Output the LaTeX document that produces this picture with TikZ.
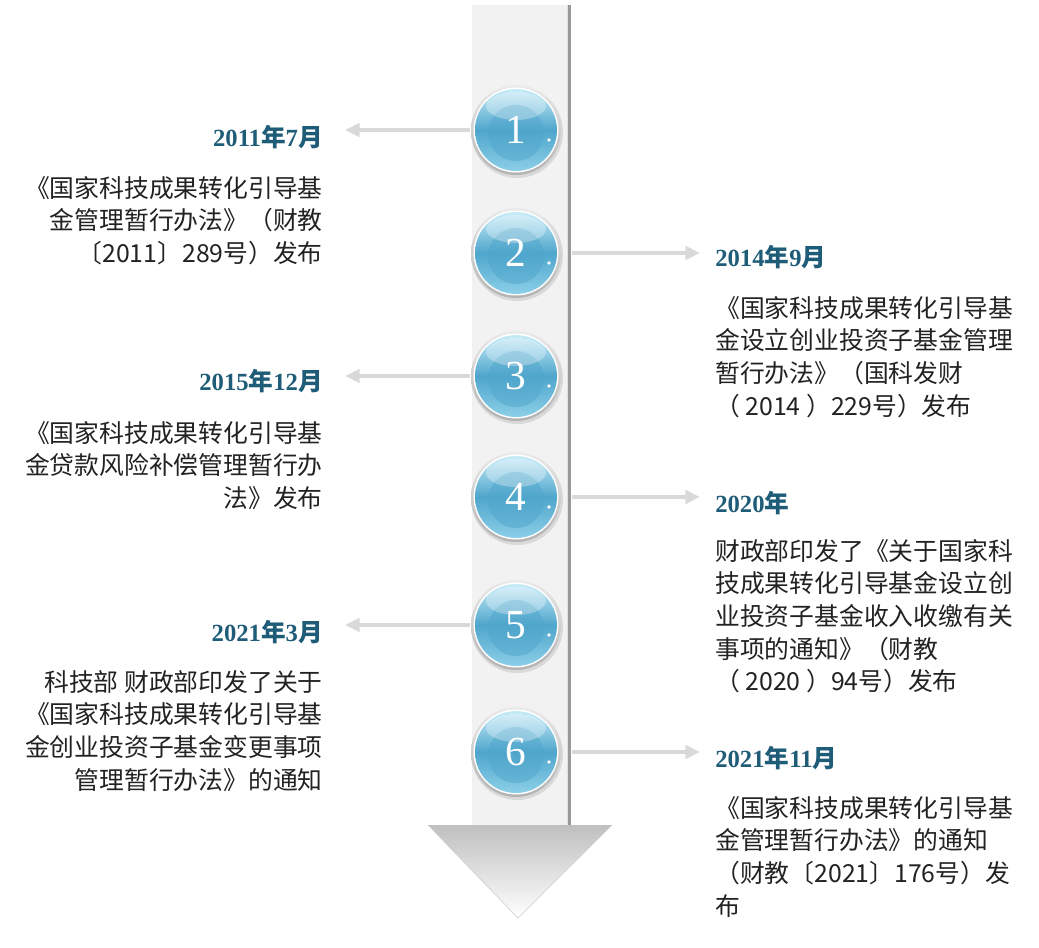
\documentclass[tikz,border=0pt]{standalone}
\usepackage{fontspec}
\setmainfont{Liberation Serif}
\newfontfamily\cjk{Noto Sans CJK SC}
\usetikzlibrary{arrows.meta,shadows}
\definecolor{ttl}{HTML}{1F5C78}
\definecolor{bd}{HTML}{222222}
\definecolor{ln}{HTML}{D9D9D9}
\definecolor{b1}{HTML}{4FA6CC}
\definecolor{b2}{HTML}{8CCFE8}
\definecolor{b3}{HTML}{C8ECF8}
\tikzset{
 ttl/.style={font=\fontsize{18.5}{20}\selectfont\bfseries, text=ttl, inner sep=0},
 bodyL/.style={font=\cjk\fontsize{18.6}{24.5}\selectfont, text=bd, align=right, anchor=north east, inner sep=0},
 bodyR/.style={font=\cjk\fontsize{18.6}{24.5}\selectfont, text=bd, align=left, anchor=north west, inner sep=0},
 conn/.style={draw=ln, line width=3pt, -{Triangle[length=11pt,width=10pt]}},
 num/.style={font=\fontsize{31}{32}\selectfont, text=white}
}
\newcommand\ball[3]{%
 \fill[black!15] (#1+1,#2+2) circle (46);
 \shade[top color=black!8, bottom color=black!30] (#1,#2) circle (45);
 \fill[white] (#1,#2) circle (42.5);
 \shade[top color=b3, bottom color=b2, middle color=b1] (#1,#2) circle (41);
 \shade[inner color=b1, outer color=b1, opacity=0.5] (#1,#2+3) circle (28);
 \fill[white, opacity=0.3] (#1,#2-24) ellipse (30 and 14);
 \fill[white] (#1+33,#2+10) circle (1.8);
 \node[num, circle, minimum size=61.5pt, inner sep=0] (#3) at (#1,#2) {\the\numexpr#3\relax};
}
\begin{document}
\begin{tikzpicture}[x=0.75pt,y=-0.75pt]
\useasboundingbox (0,0) rectangle (1039,948);
% shaft
\fill[black!40] (567,5) rectangle (571,825);
\fill[black!12] (565,5) rectangle (568,825);
\fill[black!5] (472,5) rectangle (567,825);
\shade[top color=black!25, bottom color=white] (428,825) -- (612,825) -- (518,918) -- cycle;
\draw[black!20] (428,825) -- (518,918) -- (612,825);
% balls
\ball{516}{130}{1}
\ball{516}{253}{2}
\ball{516}{376}{3}
\ball{516}{497}{4}
\ball{516}{625}{5}
\ball{516}{752}{6}
\coordinate (l1) at (345,130); \coordinate (r2) at (700,253);
\coordinate (l3) at (345,376); \coordinate (r4) at (700,497);
\coordinate (l5) at (345,625); \coordinate (r6) at (700,752);
\draw[conn] ([xshift=-3.5pt]1.west) -- (l1);
\draw[conn] ([xshift=-3.5pt]3.west) -- (l3);
\draw[conn] ([xshift=-3.5pt]5.west) -- (l5);
\draw[conn] ([xshift=11pt]2.east) -- (r2);
\draw[conn] ([xshift=11pt]4.east) -- (r4);
\draw[conn] ([xshift=11pt]6.east) -- (r6);
% left texts
\node[ttl, anchor=east] (t1) at (323,137) {2011{\cjk 年}7{\cjk 月}};
\node[bodyL] (b1) at (323,176) {《国家科技成果转化引导基\\金管理暂行办法》（财教\\〔2011〕289号）发布};
\node[ttl, anchor=east] (t3) at (323,381) {2015{\cjk 年}12{\cjk 月}};
\node[bodyL] (b3) at (323,421) {《国家科技成果转化引导基\\金贷款风险补偿管理暂行办\\法》发布};
\node[ttl, anchor=east] (t5) at (323,632) {2021{\cjk 年}3{\cjk 月}};
\node[bodyL] (b5) at (323,670) {科技部 财政部印发了关于\\《国家科技成果转化引导基\\金创业投资子基金变更事项\\管理暂行办法》的通知};
% right texts
\node[ttl, anchor=west] (t2) at (715,257) {2014{\cjk 年}9{\cjk 月}};
\node[bodyR] (b2) at (715,296) {《国家科技成果转化引导基\\金设立创业投资子基金管理\\暂行办法》（国科发财\\（ 2014 ）229号）发布};
\node[ttl, anchor=west] (t4) at (715,503) {2020{\cjk 年}};
\node[bodyR] (b4) at (715,539) {财政部印发了《关于国家科\\技成果转化引导基金设立创\\业投资子基金收入收缴有关\\事项的通知》（财教\\（ 2020 ）94号）发布};
\node[ttl, anchor=west] (t6) at (715,758) {2021{\cjk 年}11{\cjk 月}};
\node[bodyR] (b6) at (715,796) {《国家科技成果转化引导基\\金管理暂行办法》的通知\\（财教〔2021〕176号）发\\布};
\end{tikzpicture}
\end{document}
